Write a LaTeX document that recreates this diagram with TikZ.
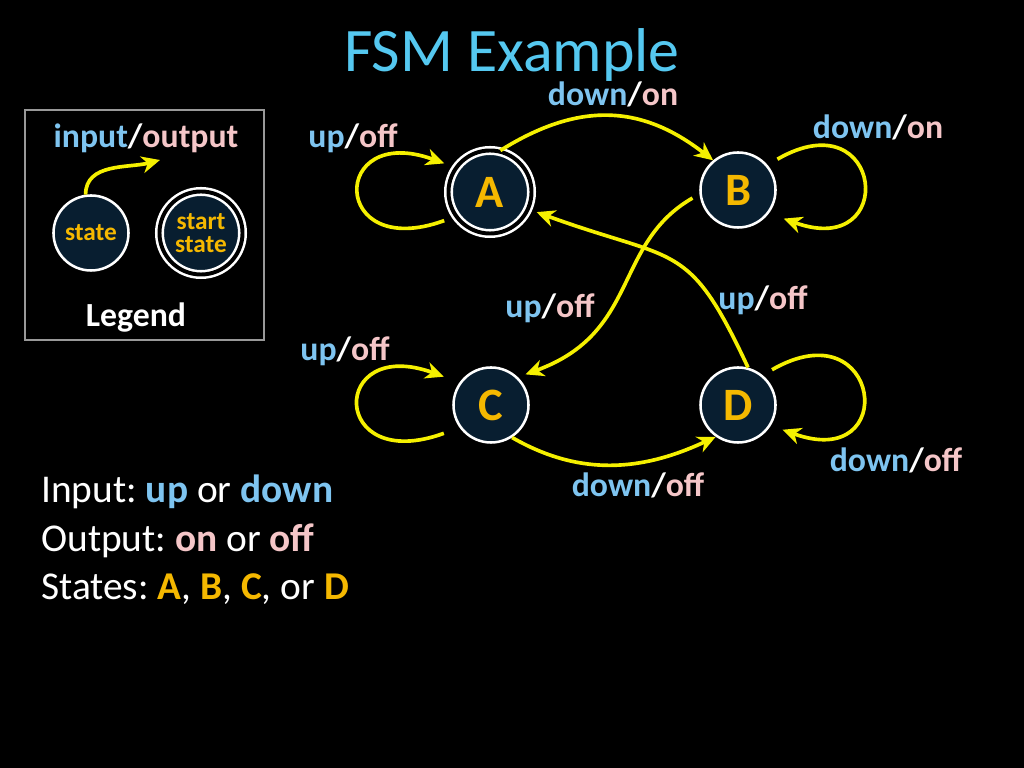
\documentclass[tikz,border=0pt]{standalone}
\usepackage{fontspec}
\setmainfont{Carlito}
\usetikzlibrary{arrows.meta,calc}
\definecolor{fsm_blue}{RGB}{85, 200, 240}
\definecolor{in_blue}{RGB}{126, 196, 240}
\definecolor{out_pink}{RGB}{245, 198, 200}
\definecolor{st_gold}{RGB}{245, 184, 0}
\definecolor{st_navy}{RGB}{8, 30, 48}
\definecolor{tr_yellow}{RGB}{245, 240, 0}
\tikzstyle{st}=[circle,fill=st_navy,draw=white,line width=1.8pt,inner sep=0pt,
  minimum size=1.875cm,text=st_gold,font=\bfseries\fontsize{33}{33}\selectfont]
\tikzstyle{sst}=[st,minimum size=2.075cm,line width=1.8pt,double=black,
  double distance=2.8pt]
\tikzstyle{tr}=[draw=tr_yellow,line width=2.6pt,
  -{Stealth[length=13pt,width=12pt,inset=4pt]}]
\tikzstyle{lb}=[anchor=base,font=\bfseries\fontsize{24}{24}\selectfont]
\tikzstyle{txt}=[anchor=base west,inner sep=0pt,font=\fontsize{28}{34}\selectfont]
\tikzstyle{none}=[]
\newcommand{\io}[2]{\textcolor{in_blue}{#1}/\textcolor{out_pink}{#2}}
\frenchspacing

\begin{document}
\begin{tikzpicture}[x=0.025cm,y=0.025cm,text=white]
		\fill [black] (0, 0) rectangle (1024, 768);
		\useasboundingbox (0, 0) rectangle (1024, 768);
		\node [style=sst] (0) at (490, 576) {A};
		\node [style=st] (1) at (738, 578) {B};
		\node [style=st] (2) at (491, 363) {C};
		\node [style=st] (3) at (738, 363) {D};
		\node [style=none, anchor=base, text=fsm_blue, font=\fontsize{44}{44}\selectfont] (4) at (512, 696) {FSM Example};
		\node [style=lb] (5) at (613, 662) {\io{down}{on}};
		\node [style=lb] (6) at (353, 620) {\io{up}{off}};
		\node [style=lb] (7) at (878, 629) {\io{down}{on}};
		\node [style=lb] (8) at (550, 450) {\io{up}{off}};
		\node [style=lb] (9) at (763, 458) {\io{up}{off}};
		\node [style=lb] (10) at (345, 407) {\io{up}{off}};
		\node [style=lb] (11) at (638, 271) {\io{down}{off}};
		\node [style=lb] (12) at (896, 296) {\io{down}{off}};
		% legend
		\draw [draw=white!60!black, line width=1.4pt] (25, 428) rectangle (264, 658);
		\node [style=st, font=\bfseries\fontsize{18}{16}\selectfont] (13) at (91, 535) {state};
		\node [style=sst, align=center, font=\bfseries\fontsize{18}{16}\selectfont] (14) at (201, 535) {start\\state};
		\coordinate (15) at (160, 608);
		\node [style=lb] (16) at (146, 620) {\io{input}{output}};
		\node [style=lb] (17) at (136, 441) {Legend};
		\node [style=txt] (18) at (41, 265) {Input: \textbf{\textcolor{in_blue}{up}} or \textbf{\textcolor{in_blue}{down}}};
		\node [style=txt] (19) at (41, 216) {Output: \textbf{\textcolor{out_pink}{on}} or \textbf{\textcolor{out_pink}{off}}};
		\node [style=txt] (20) at (41, 168) {States: \textbf{\textcolor{st_gold}{A}}, \textbf{\textcolor{st_gold}{B}}, \textbf{\textcolor{st_gold}{C}}, or \textbf{\textcolor{st_gold}{D}}};
		\draw [style=tr] (13.98) to [out=90, in=195] (15);
		\draw [style=tr] (0.76) to [out=32, in=142, looseness=1.1] (1.130);
		\draw [style=tr, shorten <=0.2cm, shorten >=0.2cm] (1.186) to [out=210, in=20, out distance=2.5cm, in distance=3.25cm] (2.46);
		\draw [style=tr, shorten >=0.2cm] (3.75) to [out=115, in=-20, out distance=3.55cm, in distance=3.95cm] (0.336);
		\draw [style=tr] (2.303) to [out=-30, in=205] (3.235);
		\draw [style=tr] ($(0)+(212:54)$) to [out=200, in=160, distance=3.05cm] ($(0)+(148:54)$);
		\draw [style=tr] ($(2)+(211:55)$) to [out=200, in=160, distance=3.05cm] ($(2)+(149:55)$);
		\draw [style=tr] ($(1)+(38:50)$) to [out=30, in=-20, distance=3.07cm] ($(1)+(-32:54)$);
		\draw [style=tr] ($(3)+(46:49)$) to [out=30, in=-20, distance=3.15cm] ($(3)+(-29:51)$);
\end{tikzpicture}
\end{document}
